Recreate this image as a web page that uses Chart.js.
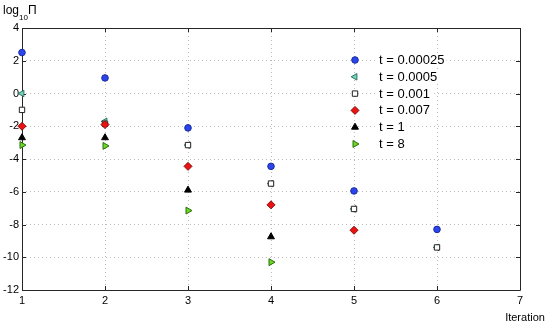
<!DOCTYPE html>
<html>
<head>
<meta charset="utf-8">
<script src="https://cdn.jsdelivr.net/npm/chart.js@4/dist/chart.umd.min.js"></script>
<style>
  html, body { margin: 0; padding: 0; background: #fff; }
  canvas { display: block; }
</style>
</head>
<body>
<canvas id="chart" width="551" height="327"></canvas>
<script>
// iterations on the x axis
const iterations = [1, 2, 3, 4, 5, 6];

// log10 of Pi for each time step
const t00025 = [2.5, 0.95, -2.1, -4.45, -5.95, -8.3];
const t0005 = [0, -1.7, -3.15, -5.5, -7.05, -9.4];
const t001 = [-1, -1.85, -3.15, -5.5, -7.05, -9.4];
const t007 = [-2, -1.9, -4.45, -6.8, -8.35];
const t1 = [-2.7, -2.7, -5.9, -8.75];
const t8 = [-3.15, -3.2, -7.15, -10.3];

const seriesLabels = ['t = 0.00025', 't = 0.0005', 't = 0.001', 't = 0.007', 't = 1', 't = 8'];
const xTicks = [1, 2, 3, 4, 5, 6, 7];
const yTicks = [-12, -10, -8, -6, -4, -2, 0, 2, 4];

const FONT = "'Liberation Sans', Arial, Helvetica, sans-serif";

function points(values) {
  return values.map((v, i) => ({ x: iterations[i], y: v }));
}

const styles = [
  { pointStyle: 'circle', rotation: 0, radius: 3.3, bg: '#2a45ee', border: '#1a2a9a' },
  { pointStyle: 'triangle', rotation: -90, radius: 3.8, bg: '#6fd8c0', border: '#2f6f60' },
  { pointStyle: 'rect', rotation: 0, radius: 3.8, bg: '#ffffff', border: '#222222' },
  { pointStyle: 'rectRot', rotation: 0, radius: 4, bg: '#ee1111', border: '#801010' },
  { pointStyle: 'triangle', rotation: 0, radius: 4, bg: '#000000', border: '#000000' },
  { pointStyle: 'triangle', rotation: 90, radius: 4, bg: '#66dd22', border: '#2f6a10' },
];

const allSeries = [t00025, t0005, t001, t007, t1, t8];

const datasets = allSeries.map((vals, i) => ({
  label: seriesLabels[i],
  data: points(vals),
  pointStyle: styles[i].pointStyle,
  rotation: styles[i].rotation,
  pointRadius: styles[i].radius,
  pointBackgroundColor: styles[i].bg,
  pointBorderColor: styles[i].border,
  pointBorderWidth: 1,
  showLine: false,
  clip: false,
  order: allSeries.length - i, // later series drawn on top
}));

// box around the axes with small inward ticks
const frame = {
  id: 'frame',
  beforeDatasetsDraw(chart) {
    const { ctx, chartArea: a, scales } = chart;
    ctx.save();
    ctx.strokeStyle = '#262626';
    ctx.lineWidth = 1;
    ctx.beginPath();
    ctx.rect(a.left + 0.5, a.top + 0.5, a.right - a.left, a.bottom - a.top);
    xTicks.forEach((t) => {
      const x = Math.round(scales.x.getPixelForValue(t)) + 0.5;
      ctx.moveTo(x, a.bottom); ctx.lineTo(x, a.bottom - 4);
      ctx.moveTo(x, a.top); ctx.lineTo(x, a.top + 4);
    });
    yTicks.forEach((t) => {
      const y = Math.round(scales.y.getPixelForValue(t)) + 0.5;
      ctx.moveTo(a.left, y); ctx.lineTo(a.left + 4, y);
      ctx.moveTo(a.right, y); ctx.lineTo(a.right - 4, y);
    });
    ctx.stroke();
    ctx.restore();
  },
  afterDraw(chart) {
    const { ctx } = chart;
    ctx.save();
    ctx.fillStyle = '#000';
    ctx.textBaseline = 'alphabetic';
    // y label: log10 Pi
    ctx.font = '12px ' + FONT;
    ctx.fillText('log', 3, 14);
    let w = ctx.measureText('log').width;
    ctx.font = '8px ' + FONT;
    ctx.fillText('10', 3 + w, 20);
    const w2 = ctx.measureText('10').width;
    ctx.font = '12px ' + FONT;
    ctx.fillText('\u03A0', 3 + w + w2, 14);
    // x label
    ctx.font = '11px ' + FONT;
    ctx.textAlign = 'center';
    ctx.fillText('Iteration', 525, 321);

    // legend inside the plot
    const mx = 355, tx = 379, y0 = 60, dy = 16.8;
    ctx.font = '13px ' + FONT;
    ctx.textAlign = 'left';
    ctx.textBaseline = 'middle';
    seriesLabels.forEach((lab, i) => {
      const y = y0 + i * dy;
      const tw = ctx.measureText(lab).width;
      ctx.fillStyle = '#fff';
      ctx.fillRect(tx - 2, y - 7, tw + 4, 14);
      ctx.fillStyle = '#000';
      ctx.fillText(lab, tx, y + 0.5);
      const s = styles[i];
      ctx.fillStyle = s.bg;
      ctx.strokeStyle = s.border;
      ctx.lineWidth = 1;
      Chart.helpers.drawPoint(ctx, {
        pointStyle: s.pointStyle, rotation: s.rotation, radius: s.radius, borderWidth: 1,
      }, mx, y);
    });
    ctx.restore();
  },
};

new Chart(document.getElementById('chart'), {
  type: 'scatter',
  data: { datasets },
  options: {
    responsive: false,
    animation: false,
    layout: { padding: { top: 28, right: 31, left: 0, bottom: 0 } },
    plugins: { legend: { display: false }, tooltip: { enabled: false } },
    scales: {
      x: {
        type: 'linear',
        min: 1,
        max: 7,
        afterBuildTicks: (s) => { s.ticks = xTicks.map((v) => ({ value: v })); },
        afterFit: (s) => { s.height = 37; },
        ticks: { color: '#000', padding: 4, font: { family: FONT, size: 11 } },
        grid: { color: '#bdbdbd', lineWidth: 1, drawTicks: false },
        border: { display: false, dash: [1, 3] },
      },
      y: {
        type: 'linear',
        min: -12,
        max: 4,
        afterBuildTicks: (s) => { s.ticks = yTicks.map((v) => ({ value: v })); },
        afterFit: (s) => { s.width = 22; },
        ticks: { color: '#000', padding: 3, font: { family: FONT, size: 11 } },
        grid: { color: '#bdbdbd', lineWidth: 1, drawTicks: false },
        border: { display: false, dash: [1, 3] },
      },
    },
  },
  plugins: [frame],
});
</script>
</body>
</html>
